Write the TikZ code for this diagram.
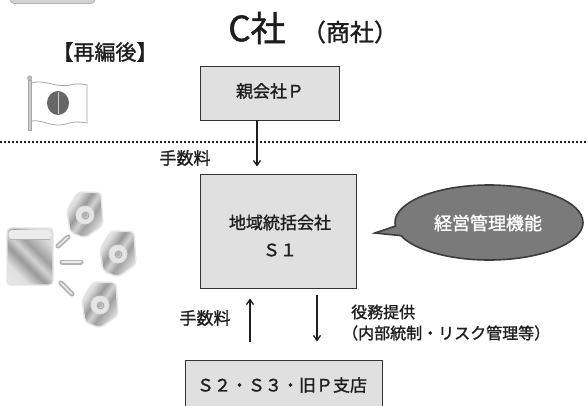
\documentclass[tikz,border=0pt]{standalone}
\usepackage{fontspec}
\setmainfont{Noto Sans CJK JP}[RawFeature={embolden=1.3}]
\usetikzlibrary{arrows.meta,shapes.callouts,shapes.geometric}

\definecolor{boxfill}{HTML}{E0E0E1}
\definecolor{boxline}{HTML}{333333}
\definecolor{bubblefill}{HTML}{7A7A7A}
\definecolor{bubbleline}{HTML}{3C3C3C}
\definecolor{ink}{HTML}{1E1E1E}

\pgfdeclarehorizontalshading{metal}{100bp}{%
  color(0bp)=(gray!10); color(30bp)=(gray!25); color(42bp)=(gray!80);
  color(50bp)=(gray!35); color(58bp)=(gray!75); color(72bp)=(gray!30);
  color(100bp)=(gray!15)}
\pgfdeclareradialshading{eye}{\pgfpoint{0bp}{0bp}}{%
  color(0bp)=(gray!10); color(5bp)=(gray!30); color(9bp)=(gray!70);
  color(12bp)=(gray!20); color(50bp)=(gray!20)}

\newcommand{\fs}[1]{\fontsize{#1}{#1}\selectfont}

\tikzset{
  panel/.style={draw=boxline, line width=0.9pt, fill=boxfill, inner sep=0pt},
  lbl/.style={text=ink, inner sep=0pt},
  arr/.style={draw=ink, line width=1.3pt, -{Straight Barb[length=5pt,width=7pt]}},
  lens/.pic={
    \shade[shading=metal, shading angle=-35, rounded corners=4pt, draw=gray!20, line width=1.4pt]
      (11,0) -- (34,0.5) -- (36,33) -- (18,46) -- (3,40) -- (0,18) -- cycle;
    \shade[shading=eye, draw=gray!25, line width=0.8pt] (18,23) circle (9);
    \fill[gray!60] (18,23) circle (2.2);
  },
}

\begin{document}
\begin{tikzpicture}[x=1pt,y=-1pt]
\useasboundingbox (0,0) rectangle (587,405);
\clip (0,0) rectangle (587,405);
\fill[white] (0,0) rectangle (587,405);

% header tab
\draw[fill=gray!35, draw=gray!60, line width=0.8pt, rounded corners=4pt] (10,-10) rectangle (95,3.5);

% title
\node[inner sep=0pt, text=ink] (title) at (257,28) {\fs{35}C社};
\node[inner sep=0pt, text=ink] (subtitle) at (350,32) {\fs{24}（商社）};
\node[inner sep=0pt, text=ink] (after) at (105,52) {\fs{21}【再編後】};

% flag
\fill[gray!40, draw=gray!70, line width=0.6pt] (28,80) rectangle (31.5,130);
\fill[gray!50, draw=gray!70, line width=0.5pt] (29.7,78) circle (2.2);
\fill[white, draw=gray!70, line width=0.8pt]
  (31.5,83) .. controls (45,79) and (55,88) .. (70,85) .. controls (78,83) and (83,84) .. (87,85)
  -- (87,123) .. controls (80,122) and (74,121) .. (66,124) .. controls (52,128) and (42,119) .. (31.5,121) -- cycle;
\fill[black!60] (58,103) ellipse (11 and 12);
\draw[gray!40, line width=0.6pt] (58,92) -- (58,114);

% network icon
\shade[shading=metal, shading angle=45, rounded corners=4pt, draw=gray!20, line width=1.4pt]
  (7,228) rectangle (53,285);
\fill[gray!15, rounded corners=3pt] (9,230) rectangle (51,239);
\draw[gray!60, line width=0.8pt] (10,239) -- (50,239);
\draw[gray!60, line width=5pt, line cap=round] (58,246) -- (68,237);
\draw[gray!15, line width=1.5pt, line cap=round] (58,246) -- (68,237);
\draw[gray!60, line width=5pt, line cap=round] (62,262) -- (81,262);
\draw[gray!15, line width=1.5pt, line cap=round] (62,262) -- (81,262);
\draw[gray!60, line width=5pt, line cap=round] (61,283) -- (72,294);
\draw[gray!15, line width=1.5pt, line cap=round] (61,283) -- (72,294);
\pic at (67,192) {lens};
\pic at (100,231) {lens};
\pic at (82,282) {lens};

% dotted separator
\coordinate (sepL) at (0,142);
\coordinate (sepR) at (587,142);
\draw[ink, line width=1.6pt, dash pattern=on 1.6pt off 2.4pt] (sepL) -- (sepR);

% boxes
\node[panel, minimum width=139pt, minimum height=54pt] (p) at (269.5,93) {};
\node[lbl, font=\fs{17}] (ptext) at (270,91) {親会社Ｐ};
\node[panel, minimum width=156pt, minimum height=114pt] (s1) at (278.7,231) {};
\node[lbl, font=\fs{17}] (s1a) at (280,222.5) {地域統括会社};
\node[lbl, font=\fs{17}] (s1b) at (280,250) {Ｓ１};
\node[panel, minimum width=197pt, minimum height=54pt] (bot) at (283.5,387) {};
\node[lbl, font=\fs{17}] (bottext) at (282,385) {Ｓ２・Ｓ３・旧Ｐ支店};

% speech bubble
\node[ellipse callout, callout absolute pointer={(375,233)}, draw=bubbleline, line width=1.6pt,
      fill=bubblefill, minimum width=188pt, minimum height=75pt, inner sep=0pt] (bubble) at (489,222.5) {};
\node[text=white, inner sep=0pt] (bubbletext) at (488,223) {\fs{18}経営管理機能};

% connectors
\draw[arr, shorten >=7pt] ([xshift=-12.5pt]p.south) -- ([xshift=-21.7pt]s1.north);
\draw[arr, shorten <=18pt, shorten >=10pt] ([xshift=-33.5pt]bot.north) -- ([xshift=-28.7pt]s1.south);
\draw[arr, shorten <=7pt, shorten >=18pt] ([xshift=38.3pt]s1.south) -- ([xshift=33.5pt]bot.north);

% labels
\node[lbl, font=\fs{17}] (fee1) at (185,158) {手数料};
\node[lbl, font=\fs{17}] (fee2) at (205,318) {手数料};
\node[lbl, font=\fs{16}, anchor=west] (svc1) at (351,312) {役務提供};
\node[lbl, font=\fs{16}, anchor=west] (svc2) at (342,333) {（内部統制・リスク管理等）};
\end{tikzpicture}
\end{document}
